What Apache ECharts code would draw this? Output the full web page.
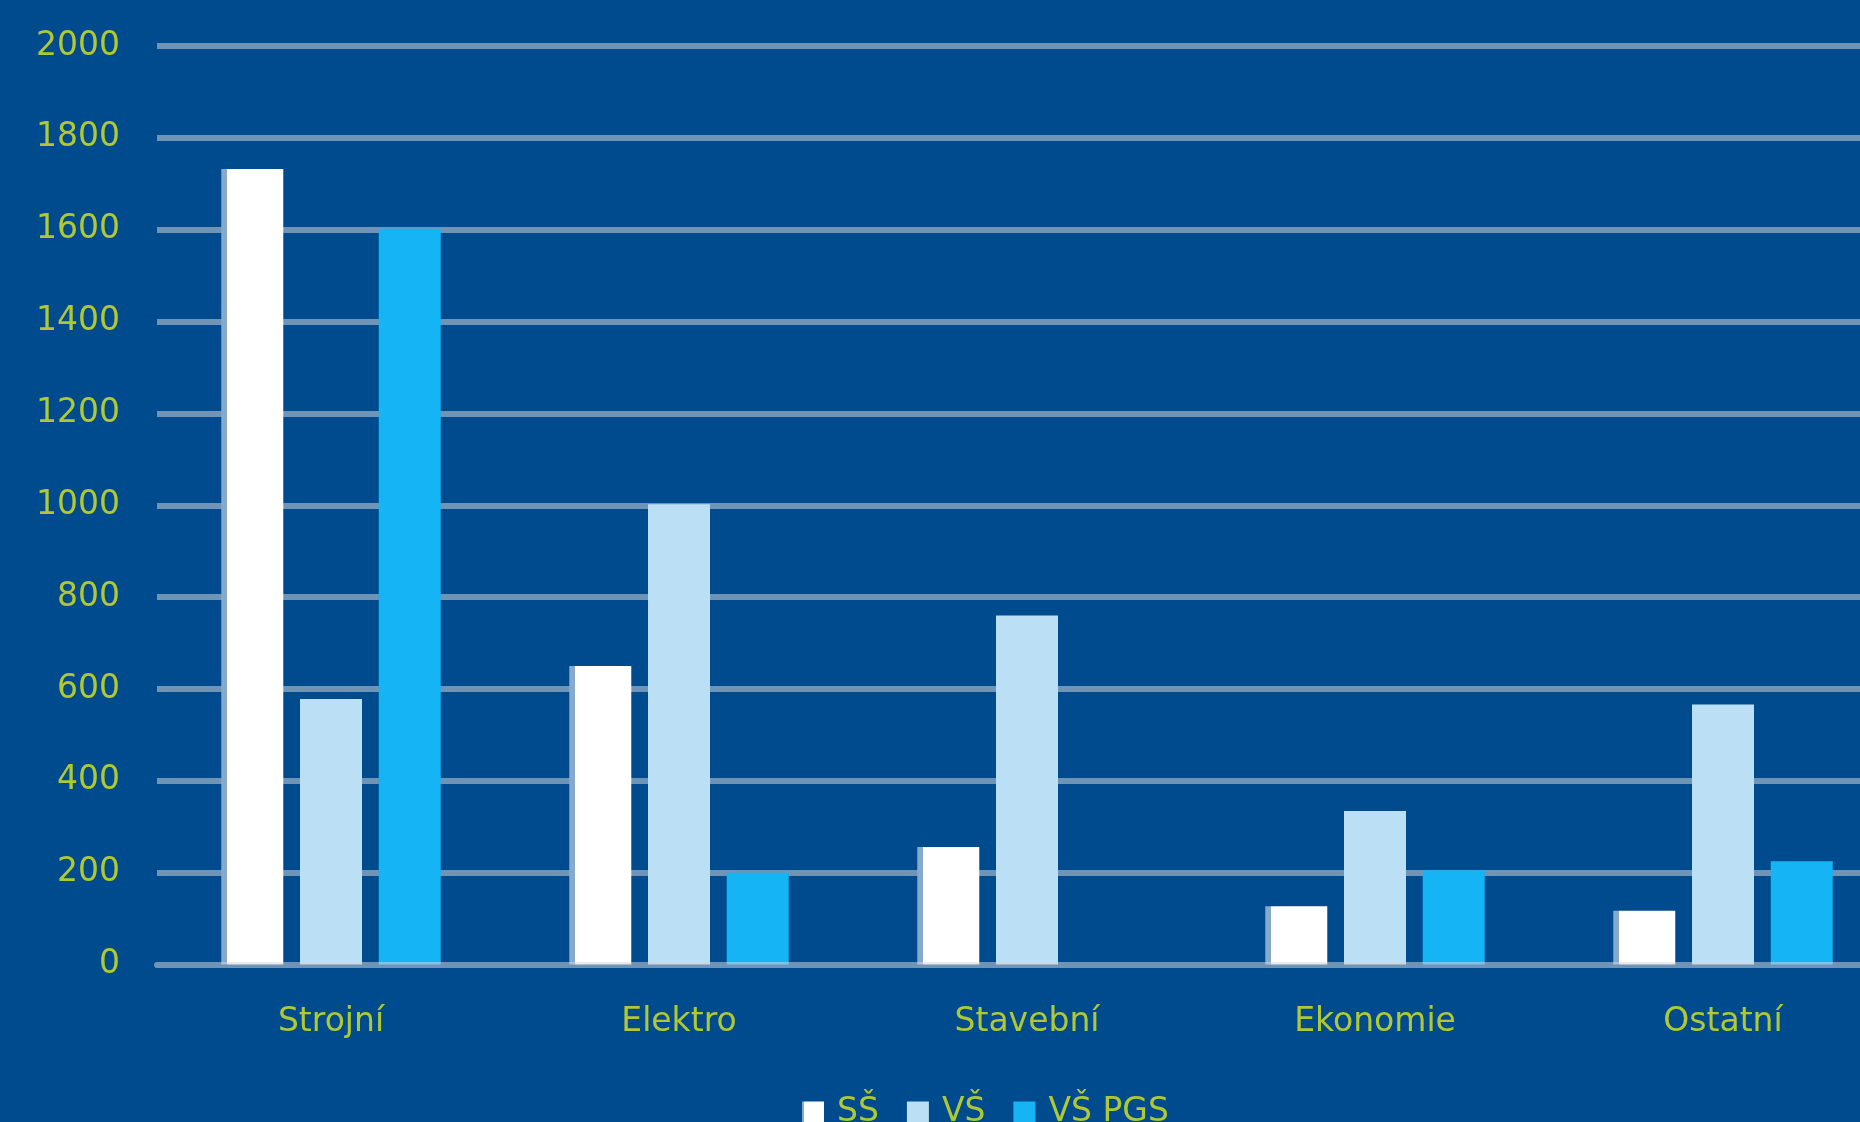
<!DOCTYPE html>
<html>
<head>
<meta charset="utf-8">
<script src="https://cdn.jsdelivr.net/npm/echarts@6/dist/echarts.min.js"></script>
<style>
  html, body { margin: 0; padding: 0; background: #004b8d; }
  #chart { width: 1860px; height: 1122px; }
</style>
</head>
<body>
<div id="chart"></div>
<script>
// categories and series values
var categories = ["Strojní", "Elektro", "Stavební", "Ekonomie", "Ostatní"];
var seriesNames = ["SŠ", "VŠ", "VŠ PGS"];
var ssValues = [1732, 650, 256, 127, 117];
var vsValues = [578, 1002, 760, 334, 566];
var pgsValues = [1602, 200, 0, 205, 225];
var yTicks = [0, 200, 400, 600, 800, 1000, 1200, 1400, 1600, 1800, 2000];

var labelColor = "#b0c834";
var gridColor = "rgba(212,213,218,0.53)";
var font = "DejaVu Sans";

var chart = echarts.init(document.getElementById("chart"));

// white bars have a pale strip down their left edge
var ssColor = new echarts.graphic.LinearGradient(0, 0, 1, 0, [
  { offset: 0, color: "#87a9cb" },
  { offset: 0.1, color: "#87a9cb" },
  { offset: 0.1, color: "#ffffff" },
  { offset: 1, color: "#ffffff" }
]);

var option = {
  backgroundColor: "#004b8d",
  animation: false,
  textStyle: { fontFamily: font },
  // plot runs past the right edge, the picture is cropped there
  grid: { left: 157, top: 46, width: 1740, height: 918.5, outerBoundsMode: "none", containLabel: false },
  legend: {
    data: seriesNames,
    left: 802,
    top: 1096,
    padding: 0,
    icon: "rect",
    itemWidth: 22,
    itemHeight: 22,
    itemGap: 28,
    textStyle: { color: labelColor, fontSize: 33, fontFamily: font, padding: [0, 0, 0, 8] }
  },
  xAxis: {
    type: "category",
    data: categories,
    z: 3,
    axisTick: { show: false },
    axisLine: { show: true, lineStyle: { color: gridColor, width: 6 } },
    axisLabel: { color: labelColor, fontSize: 33, fontFamily: font, margin: 41 }
  },
  yAxis: {
    type: "value",
    min: yTicks[0],
    max: yTicks[yTicks.length - 1],
    interval: yTicks[1] - yTicks[0],
    axisLine: { show: false },
    axisTick: { show: false },
    splitLine: { show: true, showMinLine: false, lineStyle: { color: gridColor, width: 6 } },
    axisLabel: {
      color: labelColor,
      fontSize: 33,
      fontFamily: font,
      margin: 37,
      formatter: function (v) { return String(v); }
    }
  },
  series: [
    {
      name: seriesNames[0],
      type: "bar",
      data: ssValues,
      barWidth: 62,
      barGap: "27%",
      itemStyle: { color: ssColor }
    },
    {
      name: seriesNames[1],
      type: "bar",
      data: vsValues,
      barWidth: 62,
      barGap: "27%",
      itemStyle: { color: "#bbe0f5" }
    },
    {
      name: seriesNames[2],
      type: "bar",
      data: pgsValues,
      barWidth: 62,
      barGap: "27%",
      itemStyle: { color: "#15b4f5" }
    }
  ]
};

chart.setOption(option);
</script>
</body>
</html>
